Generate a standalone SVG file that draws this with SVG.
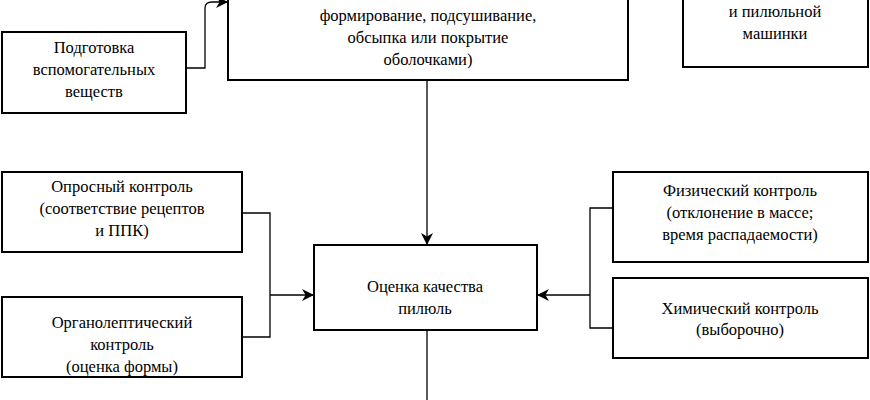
<svg xmlns="http://www.w3.org/2000/svg" width="870" height="400" viewBox="0 0 870 400">
<style>
.b{fill:#fff;stroke:#000;stroke-width:2}
.t{font-family:'Liberation Serif','DejaVu Serif',serif;font-size:16.5px;text-anchor:middle;fill:#000}
.c{fill:none;stroke:#000;stroke-width:1.3}
</style>
<defs><marker id="a" viewBox="0 0 10 10" refX="10" refY="5" markerWidth="14" markerHeight="12" markerUnits="userSpaceOnUse" orient="auto"><path d="M0,0 L10,5 L0,10 L3,5 Z" fill="#000"/></marker></defs>
<rect width="870" height="400" fill="#fff"/>
<g id="n1"><rect class="b" x="2" y="32" width="184" height="81"/><text class="t" x="94" y="53">Подготовка</text><text class="t" x="94" y="75">вспомогательных</text><text class="t" x="94" y="97">веществ</text></g>
<g id="n2"><rect class="b" x="228" y="-20" width="400" height="100"/><text class="t" x="428" y="21">формирование, подсушивание,</text><text class="t" x="428" y="43">обсыпка или покрытие</text><text class="t" x="428" y="65">оболочками)</text></g>
<g id="n3"><rect class="b" x="683" y="-20" width="185" height="87"/><text class="t" x="775" y="17">и пилюльной</text><text class="t" x="775" y="39">машинки</text></g>
<g id="n4"><rect class="b" x="314" y="245" width="223" height="85"/><text class="t" x="425" y="292">Оценка качества</text><text class="t" x="425" y="314">пилюль</text></g>
<g id="n5"><rect class="b" x="2" y="172" width="240" height="80"/><text class="t" x="122" y="192">Опросный контроль</text><text class="t" x="122" y="214">(соответствие рецептов</text><text class="t" x="122" y="236">и ППК)</text></g>
<g id="n6"><rect class="b" x="2" y="297" width="240" height="80"/><text class="t" x="122" y="328">Органолептический</text><text class="t" x="122" y="350">контроль</text><text class="t" x="122" y="372">(оценка формы)</text></g>
<g id="n7"><rect class="b" x="613" y="172" width="255" height="90"/><text class="t" x="740" y="196">Физический контроль</text><text class="t" x="740" y="218">(отклонение в массе;</text><text class="t" x="740" y="240">время распадаемости)</text></g>
<g id="n8"><rect class="b" x="613" y="278" width="255" height="80"/><text class="t" x="740" y="314">Химический контроль</text><text class="t" x="740" y="335">(выборочно)</text></g>
<g id="connectors">
<path class="c" d="M186,68 H205 V8 Q205,2 212,2 H228" marker-end="url(#a)"/>
<path class="c" d="M427,80 V245" marker-end="url(#a)"/>
<path class="c" d="M242,213 H270 V337 H242"/>
<path class="c" d="M270,295 H314" marker-end="url(#a)"/>
<path class="c" d="M613,208 H590 V328 H613"/>
<path class="c" d="M590,295 H537" marker-end="url(#a)"/>
<path class="c" d="M427,330 V400"/>
</g>
</svg>
